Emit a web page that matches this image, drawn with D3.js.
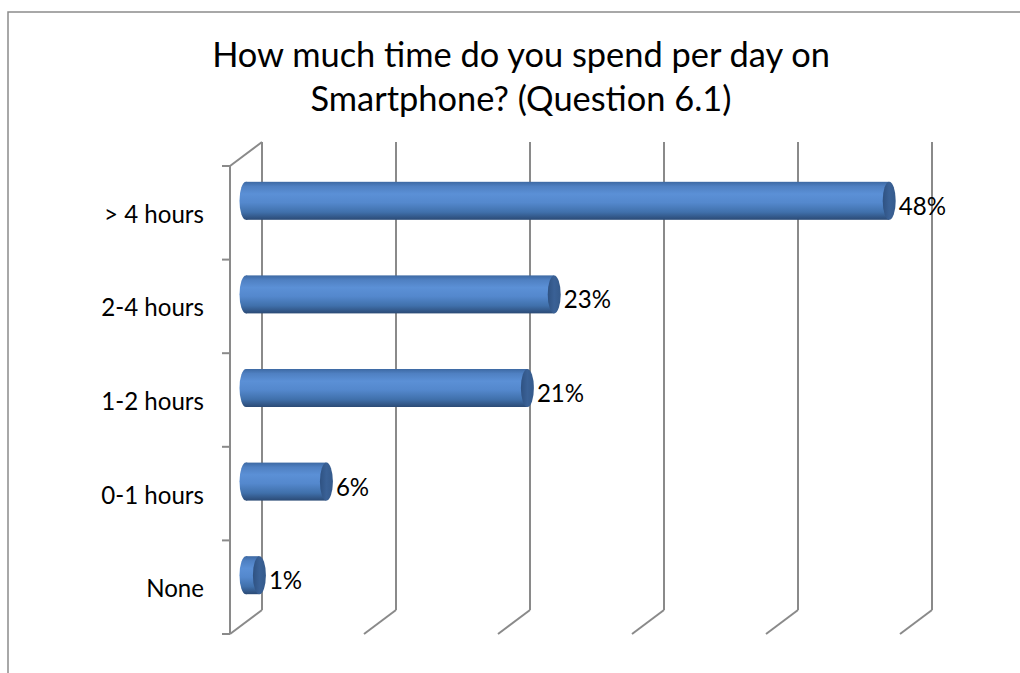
<!DOCTYPE html>
<html>
<head>
<meta charset="utf-8">
<script src="https://cdn.jsdelivr.net/npm/d3@7"></script>
<style>
  html, body { margin: 0; padding: 0; background: #fff; }
  svg { display: block; }
  text { font-family: Lato, "Open Sans", sans-serif; fill: #000; }
</style>
</head>
<body>
<svg id="chart" width="1020" height="673"></svg>
<script>
// ---- data ----
const titleLines = ["How much time do you spend per day on", "Smartphone? (Question 6.1)"];
const categories = ["> 4 hours", "2-4 hours", "1-2 hours", "0-1 hours", "None"];
const values = [48, 23, 21, 6, 1];
const valueLabels = ["48%", "23%", "21%", "6%", "1%"];
const gridTicks = [0, 10, 20, 30, 40, 50];

// ---- layout ----
const W = 1020, H = 673;
const svg = d3.select("#chart");
const frontX0 = 230, frontTop = 166, frontBottom = 634;
const depthX = 32, depthY = -24;

const x = d3.scaleLinear().domain([0, 50]).range([0, 670]);
const y = d3.scaleBand().domain(categories).range([frontTop, frontBottom]).paddingInner(0).paddingOuter(0);

const gridColor = "#8a8a8a";

// frame
svg.append("path")
  .attr("d", `M8,${H} L8,12 L${W},12`)
  .attr("fill", "none").attr("stroke", "#8c8c8c").attr("stroke-width", 1.5);

// title
const titleG = svg.append("g");
const titleBaselines = [67, 111];
const titleWidth = 618;
titleLines.forEach((t, i) => {
  titleG.append("text")
    .attr("x", 521).attr("y", titleBaselines[i])
    .attr("text-anchor", "middle")
    .style("font-size", "36px")
    .text(t);
});
const len0 = titleG.select("text").node().getComputedTextLength();
titleG.selectAll("text").style("font-size", (36 * titleWidth / len0) + "px");

// grid: back wall verticals + floor diagonals
const grid = svg.append("g").attr("stroke", gridColor).attr("stroke-width", 2).attr("fill", "none");
gridTicks.forEach(v => {
  const bx = frontX0 + depthX + x(v);
  grid.append("line")
    .attr("x1", bx).attr("x2", bx)
    .attr("y1", frontTop + depthY).attr("y2", frontBottom + depthY);
  grid.append("line")
    .attr("x1", bx).attr("y1", frontBottom + depthY)
    .attr("x2", bx - depthX).attr("y2", frontBottom);
});
grid.append("line")
  .attr("x1", frontX0).attr("x2", frontX0)
  .attr("y1", frontTop).attr("y2", frontBottom);
grid.append("line")
  .attr("x1", frontX0).attr("y1", frontTop)
  .attr("x2", frontX0 + depthX).attr("y2", frontTop + depthY);
const bounds = categories.map(c => y(c)).concat([frontBottom]);
bounds.forEach(b => {
  grid.append("line").attr("x1", frontX0 - 8).attr("x2", frontX0).attr("y1", b).attr("y2", b);
});

// gradients
const defs = svg.append("defs");
const grad = defs.append("linearGradient").attr("id", "body")
  .attr("x1", 0).attr("y1", 0).attr("x2", 0).attr("y2", 1);
[[0, "#3d69a3"], [0.12, "#4f80c2"], [0.32, "#5b90d6"], [0.55, "#5488cd"], [0.8, "#4070ab"], [1, "#2b4a75"]]
  .forEach(([o, c]) => grad.append("stop").attr("offset", o).attr("stop-color", c));
const capGrad = defs.append("linearGradient").attr("id", "cap")
  .attr("x1", 0).attr("y1", 0).attr("x2", 1).attr("y2", 0);
[[0, "#2f5282"], [0.5, "#3a6196"], [1, "#355a8b"]]
  .forEach(([o, c]) => capGrad.append("stop").attr("offset", o).attr("stop-color", c));

// label font fitted to reference width of "> 4 hours" (~100px)
const probe = svg.append("text").style("font-size", "20px").text(categories[0]);
const labelFs = 20 * 100 / probe.node().getComputedTextLength();
probe.remove();

// bars (cylinders at mid depth)
const r = 19, capRx = 6.5;
const bars = svg.append("g");
categories.forEach((c, i) => {
  const cy = y(c) + y.bandwidth() / 2 + depthY / 2;
  const x0 = frontX0 + depthX / 2 + x(0);
  const x1 = frontX0 + depthX / 2 + x(values[i]);
  const g = bars.append("g");
  g.append("ellipse").attr("cx", x0).attr("cy", cy).attr("rx", capRx).attr("ry", r).attr("fill", "url(#body)");
  g.append("rect").attr("x", x0).attr("y", cy - r).attr("width", x1 - x0).attr("height", 2 * r).attr("fill", "url(#body)");
  g.append("ellipse").attr("cx", x1).attr("cy", cy).attr("rx", capRx).attr("ry", r).attr("fill", "url(#cap)");
  svg.append("text")
    .attr("x", x1 + capRx + 3).attr("y", cy + 14)
    .style("font-size", labelFs + "px")
    .text(valueLabels[i]);
  svg.append("text")
    .attr("x", 204).attr("y", y(c) + y.bandwidth() / 2 + 10)
    .attr("text-anchor", "end")
    .style("font-size", labelFs + "px")
    .text(c);
});
</script>
</body>
</html>
